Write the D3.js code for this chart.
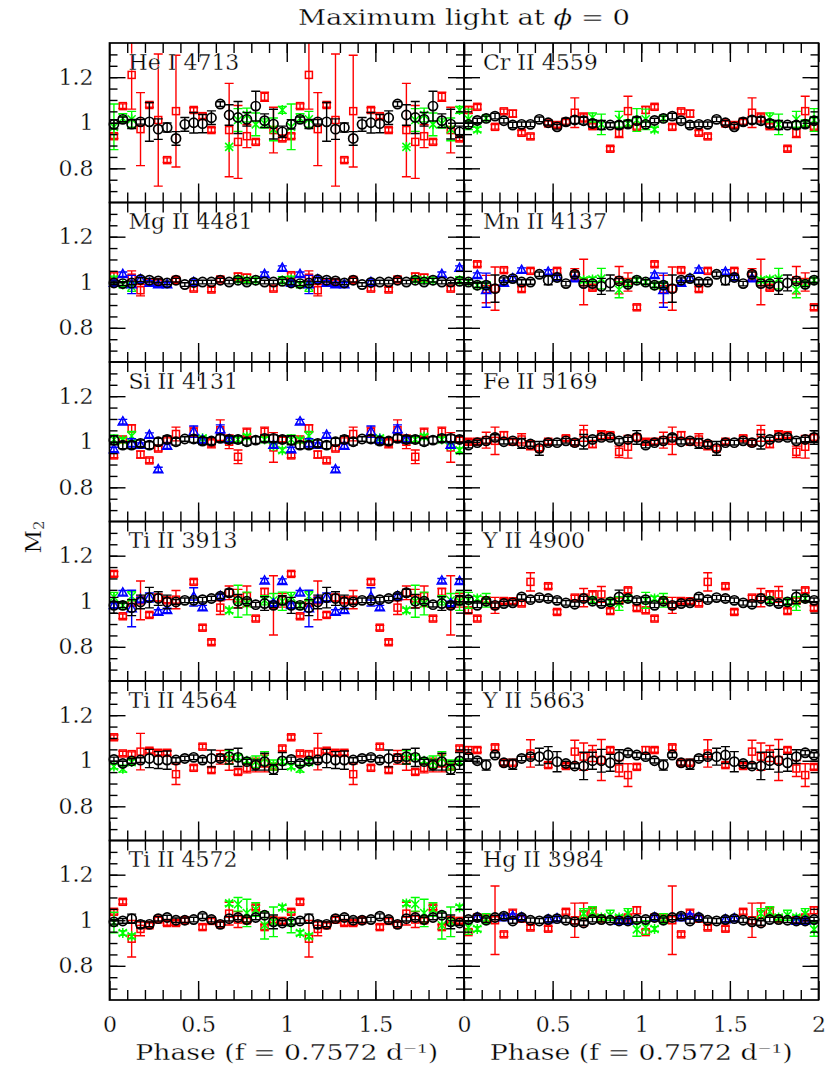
<!DOCTYPE html>
<html>
<head>
<meta charset="utf-8">
<script src="https://cdn.jsdelivr.net/npm/d3@7"></script>
<style>
body { margin: 0; background: #fff; }
text { font-family: "DejaVu Serif", serif; fill: #000; stroke: #fff; stroke-width: 0.3px; }
</style>
</head>
<body>
<svg id="chart" width="830" height="1073"></svg>
<script>
// phase bins (centres) of the binned light curves
const phaseBins = [0.025,0.075,0.125,0.175,0.225,0.275,0.325,0.375,0.425,0.475,
                   0.525,0.575,0.625,0.675,0.725,0.775,0.825,0.875,0.925,0.975];

// black: [value, error] per bin; red/green/blue: [phase, value, error]
const heBlack = [[0.993,0.02],[1.015,0.01],[0.994,0.02],[1.004,0.01],[1.004,0.085],[0.972,0.045],[0.979,0.02],[0.931,0.03],[0.993,0.03],[1.0,0.045],[0.996,0.04],[1.022,0.03],[1.082,0.01],[1.034,0.045],[1.023,0.07],[1.015,0.03],[1.073,0.065],[1.009,0.03],[0.994,0.065],[0.96,0.025]];
const heRed = [[0.025,0.941,0.01],[0.075,1.073,0.01],[0.125,1.21,0.15],[0.175,0.972,0.16],[0.225,1.078,0.01],[0.275,1.012,0.29],[0.325,0.836,0.01],[0.375,1.051,0.245],[0.475,1.056,0.01],[0.525,1.029,0.01],[0.575,0.968,0.01],[0.675,0.968,0.205],[0.725,0.916,0.16],[0.775,0.941,0.05],[0.825,0.916,0.01],[0.875,1.114,0.02],[0.925,0.968,0.1],[0.975,0.931,0.01]];
const heGreen = [[0.025,0.982,0.1],[0.075,1.02,0.02],[0.125,1.015,0.035],[0.675,0.894,0],[0.725,1.012,0.05],[0.775,1.034,0.03],[0.825,0.993,0.05],[0.875,0.997,0.02],[0.925,0.971,0.05],[0.975,1.056,0.015]];

const crBlack = [[0.993,0.01],[1.01,0.01],[1.019,0.01],[1.029,0.012],[1.009,0.01],[0.99,0.012],[0.993,0.01],[0.993,0.01],[1.015,0.01],[1.0,0.01],[0.982,0.01],[1.004,0.015],[1.012,0.015],[1.009,0.015],[0.997,0.015],[0.99,0.02],[0.99,0.01],[0.99,0.015],[0.994,0.015],[1.009,0.015]];
const crRed = [[0.025,1.056,0.015],[0.075,1.07,0.01],[0.175,0.982,0.01],[0.225,1.05,0.01],[0.275,1.04,0.015],[0.325,0.956,0.01],[0.375,0.94,0.01],[0.475,0.997,0.01],[0.525,0.99,0.01],[0.575,1.004,0.01],[0.625,1.044,0.065],[0.675,1.023,0.02],[0.725,0.985,0.01],[0.825,0.886,0.01],[0.875,0.955,0.02],[0.925,1.051,0.065],[0.975,0.982,0.01]];
const crGreen = [[0.025,1.015,0.045],[0.075,0.97,0.01],[0.125,1.02,0.01],[0.725,1.023,0.02],[0.775,0.993,0.045],[0.875,1.015,0.035],[0.925,0.997,0.015],[0.975,1.012,0.05]];

const mgBlack = [[0.997,0.008],[0.994,0.008],[0.997,0.008],[1.012,0.008],[1.009,0.008],[1.006,0.008],[0.997,0.008],[1.009,0.008],[0.99,0.008],[0.999,0.008],[1.001,0.008],[1.001,0.008],[1.009,0.008],[1.001,0.008],[1.009,0.008],[1.001,0.008],[1.009,0.008],[1.001,0.008],[1.001,0.008],[1.004,0.008]];
const mgRed = [[0.025,1.031,0.01],[0.125,1.02,0.03],[0.175,0.965,0.025],[0.225,1.0,0.01],[0.275,1.0,0.01],[0.375,1.01,0.01],[0.475,0.972,0.01],[0.575,0.968,0.01],[0.625,1.012,0.01],[0.725,1.025,0.015],[0.775,1.02,0.015],[0.925,0.972,0.01]];
const mgBlue = [[0.025,0.997,0.01],[0.075,1.035,0.01],[0.125,0.99,0.04],[0.175,1.012,0.01],[0.225,0.997,0.01],[0.275,0.99,0.01],[0.325,0.99,0.01],[0.475,1.0,0.01],[0.875,1.035,0.01],[0.975,1.062,0.01]];
const mgGreen = [[0.025,1.012,0.015],[0.075,0.99,0.01],[0.125,0.98,0.02],[0.725,1.012,0.01],[0.775,1.009,0.01],[0.825,1.009,0.01],[0.975,1.009,0.015]];

const mnBlack = [[1.001,0.01],[0.987,0.01],[0.987,0.01],[0.972,0.06],[1.009,0.01],[1.016,0.01],[1.001,0.01],[1.001,0.01],[1.035,0.01],[1.009,0.02],[1.021,0.01],[0.994,0.01],[1.035,0.01],[0.994,0.01],[0.994,0.01],[0.982,0.035],[0.997,0.035],[1.006,0.01],[0.991,0.01],[1.009,0.01]];
const mnRed = [[0.075,1.079,0.01],[0.125,0.97,0.06],[0.175,0.972,0.095],[0.225,1.053,0.01],[0.325,0.97,0.01],[0.375,1.05,0.01],[0.525,1.05,0.01],[0.625,1.035,0.025],[0.675,1.001,0.1],[0.725,0.976,0.01],[0.875,1.009,0.06],[0.925,1.001,0.04],[0.975,0.89,0.01]];
const mnBlue = [[0.075,1.031,0.01],[0.125,0.965,0.075],[0.225,0.997,0.01],[0.275,1.016,0.01],[0.325,1.053,0.01],[0.475,1.045,0.01],[0.525,1.021,0.01],[0.625,1.016,0.01]];
const mnGreen = [[0.025,1.001,0.01],[0.075,0.987,0.01],[0.125,0.987,0.015],[0.675,1.009,0.01],[0.725,1.012,0.01],[0.775,1.016,0.045],[0.875,0.967,0.035],[0.925,0.994,0.01],[0.975,1.009,0.01]];

const siBlack = [[1.007,0.02],[0.985,0.015],[0.985,0.015],[0.993,0.015],[0.985,0.015],[1.0,0.015],[1.01,0.015],[1.0,0.015],[1.012,0.01],[1.012,0.015],[1.003,0.015],[1.003,0.015],[1.015,0.015],[1.01,0.015],[1.01,0.015],[1.0,0.015],[1.007,0.015],[1.015,0.015],[1.015,0.015],[1.01,0.015]];
const siRed = [[0.025,0.94,0.01],[0.075,1.01,0.01],[0.125,1.059,0.015],[0.175,0.944,0.015],[0.225,0.918,0.01],[0.275,0.97,0.01],[0.325,1.007,0.01],[0.375,1.034,0.03],[0.475,1.044,0.02],[0.575,0.993,0.02],[0.625,1.051,0.045],[0.675,1.0,0.03],[0.725,0.934,0.03],[0.775,1.04,0.02],[0.875,1.044,0.02],[0.925,0.975,0.065],[0.975,1.01,0.01]];
const siBlue = [[0.025,0.966,0.01],[0.075,1.088,0.01],[0.125,0.993,0.02],[0.175,0.985,0.01],[0.225,1.029,0.01],[0.275,0.878,0.01],[0.325,0.981,0.01],[0.475,1.044,0.025],[0.525,1.007,0.01],[0.625,1.054,0.02],[0.675,1.01,0.01],[0.925,0.985,0.01]];
const siGreen = [[0.025,1.01,0.02],[0.075,1.007,0.01],[0.125,1.025,0.02],[0.525,1.015,0.01],[0.675,1.01,0.01],[0.725,1.01,0.01],[0.775,1.022,0.01],[0.875,1.01,0.01],[0.925,0.981,0.01],[0.975,0.963,0.01]];

const feBlack = [[0.985,0.012],[0.996,0.01],[1.004,0.01],[1.019,0.012],[1.0,0.01],[1.004,0.01],[0.993,0.022],[0.99,0.01],[0.971,0.03],[0.996,0.01],[0.996,0.01],[1.004,0.01],[0.996,0.01],[1.0,0.032],[1.01,0.01],[1.019,0.01],[1.019,0.01],[1.004,0.01],[1.01,0.01],[1.019,0.03]];
const feRed = [[0.025,1.0,0.01],[0.075,1.0,0.01],[0.125,1.007,0.035],[0.175,1.004,0.06],[0.225,1.029,0.015],[0.275,1.0,0.01],[0.325,1.01,0.025],[0.375,0.985,0.02],[0.425,0.971,0.01],[0.475,1.0,0.01],[0.575,1.015,0.01],[0.625,0.996,0.01],[0.675,1.037,0.035],[0.725,0.99,0.015],[0.775,1.029,0.02],[0.825,1.029,0.01],[0.875,0.956,0.025],[0.925,0.978,0.05],[0.975,1.019,0.012]];

const ti3913Black = [[0.982,0.035],[0.982,0.01],[0.972,0.035],[0.997,0.03],[1.016,0.045],[1.012,0.03],[0.997,0.03],[0.997,0.01],[1.004,0.01],[1.004,0.01],[1.007,0.01],[1.012,0.01],[1.022,0.01],[1.037,0.015],[1.0,0.03],[1.0,0.01],[0.985,0.01],[0.99,0.03],[0.982,0.01],[1.004,0.02]];
const ti3913Red = [[0.025,1.12,0.01],[0.075,0.934,0.01],[0.125,0.993,0.01],[0.175,1.004,0.085],[0.225,0.94,0.01],[0.275,1.016,0.015],[0.325,1.004,0.01],[0.375,1.007,0.04],[0.475,1.085,0.01],[0.525,0.884,0.01],[0.575,0.82,0.01],[0.625,0.972,0.03],[0.675,1.037,0.03],[0.725,1.012,0.04],[0.775,1.022,0.045],[0.825,0.924,0.01],[0.875,1.041,0.015],[0.925,0.982,0.13],[0.975,1.004,0.03]];
const ti3913Blue = [[0.025,0.982,0.01],[0.075,1.037,0.01],[0.125,0.968,0.08],[0.175,1.007,0.01],[0.225,1.016,0.02],[0.275,0.953,0.01],[0.325,0.96,0.01],[0.475,1.019,0.04],[0.525,0.972,0.01],[0.625,1.022,0.01],[0.875,1.09,0.01],[0.925,0.99,0.01],[0.975,1.088,0.01]];
const ti3913Green = [[0.025,1.019,0.02],[0.075,0.982,0.01],[0.125,1.022,0.02],[0.675,0.96,0.01],[0.725,1.0,0.07],[0.775,0.99,0.05],[0.875,1.004,0.02],[0.925,1.004,0.03],[0.975,1.0,0.04]];

const y4900Black = [[1.007,0.01],[0.982,0.01],[1.0,0.01],[0.982,0.01],[0.99,0.01],[0.993,0.01],[1.019,0.01],[1.007,0.01],[1.016,0.01],[1.012,0.01],[1.004,0.01],[0.993,0.01],[0.987,0.01],[1.012,0.01],[1.0,0.01],[0.99,0.01],[0.997,0.01],[1.019,0.03],[1.012,0.01],[1.004,0.01]];
const y4900Red = [[0.025,0.96,0.01],[0.075,0.924,0.01],[0.125,1.004,0.01],[0.175,0.982,0.035],[0.225,1.001,0.01],[0.275,1.0,0.01],[0.325,0.99,0.01],[0.375,1.085,0.04],[0.475,1.066,0.01],[0.525,0.953,0.01],[0.625,1.016,0.01],[0.675,1.016,0.04],[0.725,1.026,0.02],[0.775,1.03,0.035],[0.825,0.957,0.01],[0.875,1.004,0.01],[0.925,1.048,0.01],[0.975,0.97,0.01]];
const y4900Green = [[0.025,1.004,0.035],[0.075,1.012,0.01],[0.125,1.004,0.03],[0.725,1.004,0.01],[0.825,0.997,0.015],[0.875,0.99,0.03],[0.925,1.012,0.01]];

const ti4564Black = [[1.006,0.01],[0.988,0.01],[0.999,0.01],[1.003,0.01],[1.01,0.04],[1.003,0.037],[1.003,0.04],[1.003,0.01],[1.01,0.01],[1.015,0.01],[1.003,0.01],[1.01,0.037],[1.01,0.01],[1.018,0.032],[1.015,0.04],[0.996,0.01],[0.981,0.022],[0.996,0.037],[0.962,0.022],[0.999,0.037]];
const ti4564Red = [[0.025,1.103,0.01],[0.075,1.032,0.01],[0.125,1.029,0.01],[0.175,1.04,0.08],[0.225,1.044,0.01],[0.275,1.035,0.01],[0.325,1.035,0.01],[0.375,0.941,0.045],[0.475,0.969,0.01],[0.525,1.062,0.01],[0.575,0.959,0.01],[0.625,1.015,0.03],[0.675,1.003,0.045],[0.725,0.951,0.01],[0.775,0.969,0.022],[0.825,0.981,0.03],[0.875,0.988,0.037],[0.925,0.974,0.01],[0.975,1.054,0.01]];
const ti4564Green = [[0.025,0.975,0.01],[0.075,0.965,0.015],[0.125,0.994,0.01],[0.675,1.015,0.03],[0.725,1.015,0.01],[0.775,1.0,0.01],[0.825,0.996,0.025],[0.875,1.01,0.03],[0.925,0.981,0.022],[0.975,0.996,0.01]];

const y5663Black = [[1.018,0.01],[1.0,0.01],[0.981,0.022],[1.025,0.01],[0.991,0.01],[0.985,0.022],[1.01,0.01],[1.018,0.01],[1.018,0.037],[1.025,0.037],[0.996,0.044],[0.988,0.01],[0.977,0.01],[0.977,0.06],[1.0,0.037],[1.0,0.05],[0.991,0.037],[1.018,0.03],[1.035,0.01],[1.025,0.01]];
const y5663Red = [[0.025,1.047,0.015],[0.075,1.047,0.01],[0.175,1.059,0.01],[0.225,0.991,0.01],[0.275,0.991,0.01],[0.375,1.032,0.06],[0.475,0.981,0.01],[0.575,0.977,0.01],[0.625,1.04,0.05],[0.675,1.018,0.06],[0.725,1.032,0.035],[0.775,1.003,0.09],[0.825,1.047,0.01],[0.875,0.966,0.035],[0.925,0.937,0.05],[0.975,0.973,0.01]];

const ti4572Black = [[0.993,0.01],[0.997,0.01],[1.007,0.02],[0.982,0.015],[0.982,0.01],[1.007,0.01],[1.012,0.01],[1.0,0.01],[1.0,0.01],[1.003,0.01],[1.018,0.01],[1.003,0.01],[0.982,0.01],[1.007,0.01],[1.012,0.01],[1.003,0.01],[1.012,0.01],[1.022,0.01],[0.993,0.03],[0.988,0.01]];
const ti4572Red = [[0.025,1.037,0.01],[0.075,1.081,0.01],[0.125,0.919,0.08],[0.175,0.962,0.03],[0.225,0.978,0.01],[0.275,1.003,0.01],[0.325,0.988,0.01],[0.375,0.988,0.01],[0.425,1.0,0.01],[0.525,0.97,0.01],[0.575,0.997,0.01],[0.625,0.982,0.01],[0.675,1.029,0.05],[0.725,1.003,0.035],[0.775,1.0,0.01],[0.825,1.056,0.01],[0.875,0.97,0.01],[0.925,1.0,0.01],[0.975,0.997,0.01]];
const ti4572Green = [[0.025,0.99,0.045],[0.075,0.944,0.01],[0.125,0.93,0.01],[0.675,1.074,0.01],[0.725,1.07,0.03],[0.775,1.032,0.06],[0.825,1.047,0.03],[0.875,0.978,0.06],[0.925,0.993,0.065],[0.975,1.056,0.01]];

const hgBlack = [[1.003,0.01],[1.012,0.01],[1.0,0.01],[1.012,0.01],[1.018,0.01],[0.997,0.01],[1.012,0.01],[1.0,0.01],[0.997,0.01],[1.003,0.01],[1.007,0.01],[1.0,0.01],[0.993,0.01],[0.988,0.01],[1.003,0.01],[1.003,0.01],[1.0,0.01],[0.997,0.01],[0.997,0.01],[1.003,0.01]];
const hgRed = [[0.025,0.948,0.01],[0.075,1.012,0.01],[0.125,1.007,0.015],[0.175,1.0,0.15],[0.225,0.938,0.01],[0.275,1.029,0.02],[0.325,1.007,0.01],[0.375,0.968,0.01],[0.475,0.963,0.01],[0.575,1.037,0.01],[0.625,1.0,0.075],[0.675,1.026,0.05],[0.725,1.037,0.02],[0.775,1.007,0.01],[0.875,1.0,0.01],[0.925,1.012,0.01],[0.975,1.044,0.015]];
const hgBlue = [[0.075,1.012,0.01],[0.225,1.012,0.01],[0.275,1.018,0.01],[0.325,1.012,0.01],[0.475,1.003,0.01],[0.525,1.007,0.01],[0.875,0.997,0.01],[0.925,0.997,0.01]];
const hgGreen = [[0.025,0.968,0.03],[0.075,0.962,0.01],[0.125,1.007,0.022],[0.675,1.029,0.022],[0.725,1.037,0.022],[0.775,1.012,0.01],[0.825,1.022,0.022],[0.875,1.012,0.01],[0.925,1.029,0.022],[0.975,0.96,0.03]];

// panel order: row by row, left then right
const panels = [
  {label: "He I 4713",  black: heBlack,     red: heRed,     green: heGreen,     blue: []},
  {label: "Cr II 4559", black: crBlack,     red: crRed,     green: crGreen,     blue: []},
  {label: "Mg II 4481", black: mgBlack,     red: mgRed,     green: mgGreen,     blue: mgBlue},
  {label: "Mn II 4137", black: mnBlack,     red: mnRed,     green: mnGreen,     blue: mnBlue},
  {label: "Si II 4131", black: siBlack,     red: siRed,     green: siGreen,     blue: siBlue},
  {label: "Fe II 5169", black: feBlack,     red: feRed,     green: [],          blue: []},
  {label: "Ti II 3913", black: ti3913Black, red: ti3913Red, green: ti3913Green, blue: ti3913Blue},
  {label: "Y II 4900",  black: y4900Black,  red: y4900Red,  green: y4900Green,  blue: []},
  {label: "Ti II 4564", black: ti4564Black, red: ti4564Red, green: ti4564Green, blue: []},
  {label: "Y II 5663",  black: y5663Black,  red: y5663Red,  green: [],          blue: []},
  {label: "Ti II 4572", black: ti4572Black, red: ti4572Red, green: ti4572Green, blue: []},
  {label: "Hg II 3984", black: hgBlack,     red: hgRed,     green: hgGreen,     blue: hgBlue}
];

const yMajor = [0.8, 1, 1.2];
const yMinor = [0.7,0.75,0.8,0.85,0.9,0.95,1,1.05,1.1,1.15,1.2,1.25,1.3];
const xMajor = [0, 0.5, 1, 1.5, 2];
const xMinor = [0.1,0.2,0.3,0.4,0.5,0.6,0.7,0.8,0.9,1,1.1,1.2,1.3,1.4,1.5,1.6,1.7,1.8,1.9];

// layout
const padL = 109.5, padR = 818.5, padT = 43, padB = 1000;
const pw = (padR - padL) / 2, ph = (padB - padT) / 6;

const svg = d3.select("#chart");
const x = d3.scaleLinear().domain([0, 2]).range([0, pw]);
const y = d3.scaleLinear().domain([0.65, 1.35]).range([ph, 0]);

svg.append("defs").append("clipPath").attr("id", "vclip")
  .append("rect").attr("x", -30).attr("y", 0).attr("width", pw + 60).attr("height", ph);

// every phase point is shown twice (phase and phase + 1)
const twice = arr => arr.flatMap(d => [[d[0], d[1], d[2]], [d[0] + 1, d[1], d[2]]]);

const errPath = (d, c) => {
  const cx = x(d[0]), y1 = y(d[1] + d[2]), y2 = y(d[1] - d[2]);
  return `M${cx - c},${y1}H${cx + c}M${cx},${y1}V${y2}M${cx - c},${y2}H${cx + c}`;
};

function drawSeries(g, data, color, kind) {
  const pts = twice(data);
  g.append("g").selectAll("path").data(pts).enter().append("path")
    .attr("d", d => errPath(d, 4.5))
    .attr("fill", "none").attr("stroke", color).attr("stroke-width", 1.4);
  const m = g.append("g").attr("fill", "none").attr("stroke", color).attr("stroke-width", 1.5);
  if (kind === "square") {
    m.selectAll("rect").data(pts).enter().append("rect")
      .attr("x", d => x(d[0]) - 3.5).attr("y", d => y(d[1]) - 3.5)
      .attr("width", 7).attr("height", 7);
  } else if (kind === "circle") {
    m.attr("stroke-width", 1.7);
    m.selectAll("circle").data(pts).enter().append("circle")
      .attr("cx", d => x(d[0])).attr("cy", d => y(d[1])).attr("r", 4.6);
  } else if (kind === "triangle") {
    m.selectAll("path").data(pts).enter().append("path")
      .attr("d", d => `M${x(d[0])},${y(d[1]) - 5}l4.6,8.2h-9.2z`);
  } else {
    m.selectAll("path").data(pts).enter().append("path")
      .attr("d", d => {
        const cx = x(d[0]), cy = y(d[1]);
        return `M${cx - 4},${cy - 4}L${cx + 4},${cy + 4}M${cx - 4},${cy + 4}L${cx + 4},${cy - 4}M${cx},${cy - 5}V${cy + 5}`;
      });
  }
}

function styleTicks(sel, w) {
  sel.select(".domain").remove();
  sel.selectAll(".tick line").attr("stroke", "#000").attr("stroke-width", w);
}

panels.forEach((p, i) => {
  const row = Math.floor(i / 2), col = i % 2;
  const g = svg.append("g").attr("transform", `translate(${padL + col * pw},${padT + row * ph})`);

  const pts = g.append("g").attr("clip-path", "url(#vclip)");
  const blackPts = p.black.map((d, k) => [phaseBins[k], d[0], d[1]]);
  drawSeries(pts, p.red, "#ff0000", "square");
  drawSeries(pts, p.green, "#00ff00", "cross");
  drawSeries(pts, p.blue, "#0000ff", "triangle");
  drawSeries(pts, blackPts, "#000000", "circle");

  // minor and major ticks on all four sides, pointing inwards
  g.append("g").attr("transform", `translate(0,${ph})`)
    .call(d3.axisBottom(x).tickValues(xMinor).tickSize(-10).tickFormat("")).call(styleTicks, 1.4);
  g.append("g").call(d3.axisTop(x).tickValues(xMinor).tickSize(-10).tickFormat("")).call(styleTicks, 1.4);
  g.append("g").call(d3.axisTop(x).tickValues(xMajor).tickSize(-19).tickFormat("")).call(styleTicks, 1.4);
  g.append("g").call(d3.axisLeft(y).tickValues(yMinor).tickSize(-8).tickFormat("")).call(styleTicks, 1.4);
  g.append("g").attr("transform", `translate(${pw},0)`)
    .call(d3.axisRight(y).tickValues(yMinor).tickSize(-8).tickFormat("")).call(styleTicks, 1.4);
  g.append("g").attr("transform", `translate(${pw},0)`)
    .call(d3.axisRight(y).tickValues(yMajor).tickSize(-16).tickFormat("")).call(styleTicks, 1.4);

  const bottomRow = row === 5;
  const xb = g.append("g").attr("transform", `translate(0,${ph})`)
    .call(d3.axisBottom(x)
      .tickValues(bottomRow ? (col === 0 ? xMajor.slice(0, 4) : xMajor) : xMajor)
      .tickSize(-19).tickPadding(16)
      .tickFormat(d => bottomRow ? String(d) : ""))
    .call(styleTicks, 1.4);
  xb.attr("font-size", 22);

  const yl = g.append("g")
    .call(d3.axisLeft(y).tickValues(yMajor).tickSize(-16).tickPadding(16)
      .tickFormat(d => col === 0 ? String(d) : ""))
    .call(styleTicks, 1.4);
  yl.attr("font-size", 22);

  g.append("rect").attr("width", pw).attr("height", ph)
    .attr("fill", "none").attr("stroke", "#000").attr("stroke-width", 1.7);

  g.append("text").attr("x", 19).attr("y", 26.5)
    .attr("font-size", 22).text(p.label);
});

// titles
svg.append("text").attr("x", padL + pw).attr("y", 25).attr("text-anchor", "middle")
  .attr("font-size", 22).attr("textLength", 332).attr("lengthAdjust", "spacingAndGlyphs")
  .call(t => {
    t.append("tspan").text("Maximum light at ");
    t.append("tspan").attr("font-style", "italic").text("ϕ");
    t.append("tspan").text(" = 0");
  });

[0, 1].forEach(col => {
  svg.append("text").attr("x", padL + col * pw + pw / 2).attr("y", 1060)
    .attr("text-anchor", "middle").attr("font-size", 22)
    .attr("textLength", 303).attr("lengthAdjust", "spacingAndGlyphs")
    .text("Phase (f = 0.7572 d⁻¹)");
});

svg.append("text").attr("transform", "translate(41,537) rotate(-90)")
  .attr("text-anchor", "middle").attr("font-size", 23)
  .call(t => {
    t.append("tspan").text("M");
    t.append("tspan").attr("font-size", 15).attr("dy", 3).text("2");
  });
</script>
</body>
</html>
